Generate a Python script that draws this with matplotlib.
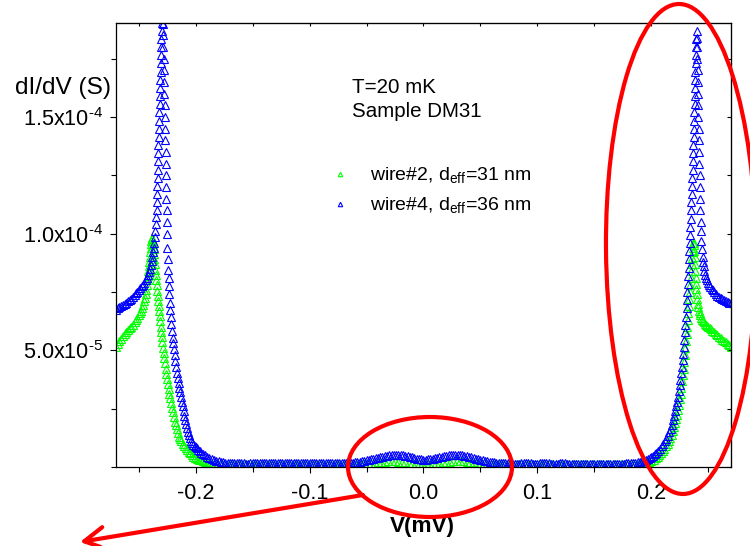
import matplotlib
matplotlib.use("Agg")
import matplotlib.pyplot as plt
from matplotlib.ticker import MultipleLocator
from matplotlib.patches import Ellipse, FancyArrowPatch
from matplotlib.lines import Line2D

plt.rcParams['font.family'] = ['Liberation Sans', 'DejaVu Sans']
plt.rcParams['mathtext.fontset'] = 'custom'
plt.rcParams['mathtext.rm'] = 'Liberation Sans'
plt.rcParams['mathtext.it'] = 'Liberation Sans:italic'
plt.rcParams['mathtext.bf'] = 'Liberation Sans:bold'

# ---- data: bias voltage (mV) and differential conductance (units of 1e-5 S) ----
v_wire2 = [
    # outer shoulder and coherence peak, negative bias
    -0.2700, -0.2685, -0.2670, -0.2655, -0.2640, -0.2625, -0.2610, -0.2595, -0.2580, -0.2565,
    -0.2550, -0.2537, -0.2525, -0.2512, -0.2500, -0.2490, -0.2480, -0.2470, -0.2460, -0.2452,
    -0.2445, -0.2439, -0.2433, -0.2428, -0.2423, -0.2419, -0.2415, -0.2411, -0.2408, -0.2404,
    -0.2401, -0.2397, -0.2394, -0.2390, -0.2386, -0.2382, -0.2378,
    -0.2374, -0.2370, -0.2366, -0.2362, -0.2358, -0.2354, -0.2350, -0.2346, -0.2342, -0.2338,
    -0.2334, -0.2330, -0.2325, -0.2321, -0.2316, -0.2312, -0.2307, -0.2302, -0.2297, -0.2292,
    -0.2287, -0.2282, -0.2276, -0.2271, -0.2265, -0.2259, -0.2252, -0.2246, -0.2239, -0.2232,
    -0.2225, -0.2217, -0.2208, -0.2200, -0.2191, -0.2183, -0.2174, -0.2165, -0.2155, -0.2145,
    -0.2135, -0.2125, -0.2112, -0.2100, -0.2087, -0.2075, -0.2062, -0.2050, -0.2035, -0.2020,
    -0.2005, -0.1990, -0.1972, -0.1955, -0.1937, -0.1920, -0.1900, -0.1880, -0.1860, -0.1840,
    # subgap
    -0.181, -0.178, -0.175, -0.172, -0.169, -0.166, -0.163, -0.160, -0.157, -0.154,
    -0.151, -0.148, -0.145, -0.142, -0.139, -0.136, -0.133, -0.130, -0.127, -0.124,
    -0.121, -0.118, -0.115, -0.112, -0.109, -0.106, -0.103, -0.100, -0.097, -0.094,
    -0.091, -0.088, -0.085, -0.082, -0.079, -0.076, -0.073, -0.070,
    -0.067, -0.064, -0.061, -0.058, -0.055, -0.052, -0.049, -0.046, -0.043, -0.040,
    -0.037, -0.034, -0.031, -0.028, -0.025, -0.022, -0.019, -0.016, -0.013, -0.010,
    -0.007, -0.004, -0.001, 0.002, 0.005, 0.008, 0.011, 0.014, 0.017, 0.020,
    0.023, 0.026, 0.029, 0.032, 0.035, 0.038, 0.041, 0.044, 0.047, 0.050,
    0.053, 0.056, 0.059, 0.062, 0.065, 0.068, 0.071,
    0.074, 0.077, 0.080, 0.083, 0.086, 0.089, 0.092, 0.095, 0.098, 0.101,
    0.104, 0.107, 0.110, 0.113, 0.116, 0.119, 0.122, 0.125, 0.128, 0.131,
    0.134, 0.137, 0.140, 0.143, 0.146, 0.149, 0.152, 0.155, 0.158, 0.161,
    0.164, 0.167, 0.170, 0.173, 0.176, 0.179, 0.182, 0.185, 0.188,
    # coherence peak and shoulder, positive bias
    0.1905, 0.1930, 0.1955, 0.1980, 0.2000, 0.2020, 0.2040, 0.2055, 0.2070, 0.2085,
    0.2100, 0.2115, 0.2130, 0.2143, 0.2155, 0.2168, 0.2180, 0.2190, 0.2200, 0.2210,
    0.2220, 0.2228, 0.2235, 0.2243, 0.2250, 0.2258, 0.2265, 0.2272, 0.2280, 0.2285,
    0.2290, 0.2295, 0.2300, 0.2305, 0.2310, 0.2315, 0.2320, 0.2325, 0.2330, 0.2334,
    0.2338, 0.2342, 0.2346, 0.2350, 0.2354, 0.2358, 0.2362, 0.2366, 0.2370, 0.2373, 0.2376,
    0.2379, 0.2382, 0.2385, 0.2388, 0.2391, 0.2394, 0.2397, 0.2400, 0.2404, 0.2408,
    0.2413, 0.2418, 0.2424, 0.2430, 0.2437, 0.2445, 0.2452, 0.2460, 0.2470, 0.2480,
    0.2490, 0.2500, 0.2512, 0.2525, 0.2537, 0.2550, 0.2565, 0.2580, 0.2595, 0.2610,
    0.2625, 0.2640, 0.2655, 0.2670, 0.2685, 0.2700,
]
g_wire2 = [
    5.15, 5.28, 5.40, 5.50, 5.60, 5.70, 5.80, 5.88, 5.95, 6.02,
    6.10, 6.20, 6.30, 6.40, 6.50, 6.60, 6.70, 6.82, 6.95, 7.10,
    7.25, 7.42, 7.60, 7.80, 8.00, 8.20, 8.40, 8.60, 8.80, 9.00,
    9.20, 9.38, 9.55, 9.68, 9.80, 9.78, 9.70,
    9.55, 9.35, 9.12, 8.90, 8.68, 8.45, 8.22, 8.00, 7.78, 7.55,
    7.32, 7.10, 6.90, 6.70, 6.48, 6.25, 6.02, 5.80, 5.58, 5.35,
    5.12, 4.90, 4.68, 4.45, 4.22, 4.00, 3.78, 3.55, 3.35, 3.15,
    2.95, 2.75, 2.55, 2.35, 2.15, 1.95, 1.78, 1.62, 1.45, 1.30,
    1.20, 1.10, 1.00, 0.90, 0.81, 0.72, 0.65, 0.58, 0.51, 0.45,
    0.40, 0.36, 0.32, 0.28, 0.25, 0.22, 0.19, 0.17, 0.15, 0.14,
    0.13, 0.13, 0.12, 0.12, 0.12, 0.13, 0.13, 0.12, 0.12, 0.12,
    0.13, 0.12, 0.12, 0.13, 0.13, 0.12, 0.12, 0.12, 0.13, 0.13,
    0.12, 0.12, 0.13, 0.13, 0.13, 0.12, 0.12, 0.12, 0.13, 0.13,
    0.13, 0.12, 0.12, 0.12, 0.12, 0.13, 0.13, 0.13,
    0.13, 0.13, 0.14, 0.14, 0.15, 0.16, 0.17, 0.18, 0.19, 0.21,
    0.22, 0.23, 0.24, 0.24, 0.24, 0.23, 0.22, 0.21, 0.19, 0.17,
    0.16, 0.15, 0.14, 0.14, 0.15, 0.16, 0.17, 0.19, 0.21, 0.22,
    0.23, 0.24, 0.25, 0.25, 0.24, 0.23, 0.22, 0.20, 0.18, 0.17,
    0.16, 0.15, 0.14, 0.13, 0.13, 0.12, 0.12,
    0.12, 0.12, 0.13, 0.12, 0.12, 0.12, 0.13, 0.12, 0.12, 0.12,
    0.12, 0.13, 0.12, 0.12, 0.12, 0.11, 0.11, 0.12, 0.12, 0.12,
    0.12, 0.11, 0.11, 0.11, 0.11, 0.11, 0.11, 0.11, 0.11, 0.11,
    0.12, 0.12, 0.12, 0.12, 0.13, 0.13, 0.14, 0.14, 0.15,
    0.16, 0.18, 0.20, 0.23, 0.27, 0.31, 0.37, 0.43, 0.50, 0.58,
    0.68, 0.77, 0.88, 0.99, 1.10, 1.24, 1.38, 1.54, 1.70, 1.87,
    2.05, 2.25, 2.45, 2.67, 2.90, 3.15, 3.40, 3.67, 3.95, 4.22,
    4.50, 4.80, 5.10, 5.40, 5.70, 6.00, 6.30, 6.60, 6.90, 7.20,
    7.50, 7.80, 8.10, 8.40, 8.70, 8.95, 9.20, 9.40, 9.60, 9.58, 9.50,
    9.25, 9.00, 8.70, 8.40, 8.12, 7.85, 7.62, 7.40, 7.20, 7.00,
    6.85, 6.70, 6.60, 6.50, 6.40, 6.30, 6.25, 6.20, 6.15, 6.10,
    6.05, 6.00, 5.95, 5.90, 5.84, 5.78, 5.72, 5.65, 5.58, 5.52,
    5.46, 5.40, 5.34, 5.28, 5.22, 5.15,
]

v_wire4 = [
    # outer shoulder and coherence peak, negative bias
    -0.2700, -0.2685, -0.2670, -0.2655, -0.2640, -0.2625, -0.2610, -0.2595, -0.2580, -0.2565,
    -0.2550, -0.2537, -0.2525, -0.2512, -0.2500, -0.2487, -0.2475, -0.2462, -0.2450, -0.2440,
    -0.2430, -0.2420, -0.2410, -0.2402, -0.2395, -0.2387, -0.2380, -0.2374, -0.2368, -0.2363,
    -0.2358, -0.2354, -0.2350, -0.2347, -0.2344, -0.2341, -0.2339, -0.2337, -0.2335, -0.2333,
    -0.2331, -0.2329, -0.2327, -0.2325, -0.2323, -0.2321, -0.2319, -0.2317, -0.2315, -0.2313,
    -0.2311, -0.2309, -0.2307, -0.2305, -0.2303, -0.2301, -0.2299, -0.2297, -0.2295, -0.2293,
    -0.2291,
    -0.2289, -0.2287, -0.2285, -0.2283, -0.2281, -0.2279, -0.2277, -0.2275, -0.2273, -0.2271,
    -0.2269, -0.2267, -0.2265, -0.2263, -0.2261, -0.2259, -0.2257, -0.2255, -0.2253, -0.2251,
    -0.2248, -0.2245, -0.2242, -0.2239, -0.2236, -0.2232, -0.2228, -0.2224, -0.2219, -0.2214,
    -0.2208, -0.2203, -0.2197, -0.2191, -0.2185, -0.2178, -0.2171, -0.2164, -0.2157, -0.2150,
    -0.2143, -0.2136, -0.2129, -0.2122, -0.2115, -0.2107, -0.2100, -0.2092, -0.2085, -0.2077,
    -0.2069, -0.2060, -0.2050, -0.2040, -0.2030, -0.2020, -0.2010, -0.2000, -0.1990, -0.1978,
    -0.1965, -0.1953, -0.1940, -0.1920, -0.1900, -0.1880, -0.1860, -0.1840, -0.1820, -0.1800,
    -0.1780, -0.1760, -0.1740, -0.1720, -0.1700,
    # subgap
    -0.168, -0.166, -0.164, -0.162, -0.160, -0.158, -0.156, -0.154, -0.152, -0.150,
    -0.148, -0.146, -0.144, -0.142, -0.140, -0.138, -0.136, -0.134, -0.132, -0.130,
    -0.128, -0.126, -0.124, -0.122, -0.120, -0.118, -0.116, -0.114, -0.112, -0.110,
    -0.108, -0.106, -0.104, -0.102, -0.100, -0.098, -0.096, -0.094, -0.092, -0.090,
    -0.088, -0.086, -0.084, -0.082, -0.080, -0.078, -0.076, -0.074, -0.072, -0.070,
    -0.068, -0.066, -0.064, -0.062, -0.060, -0.058, -0.056, -0.054, -0.052, -0.050,
    -0.048, -0.046, -0.044, -0.042, -0.040, -0.038, -0.036, -0.034, -0.032, -0.030,
    -0.028, -0.026, -0.024, -0.022, -0.020, -0.018, -0.016, -0.014, -0.012, -0.010,
    -0.008, -0.006, -0.004, -0.002, 0.000, 0.002, 0.004, 0.006, 0.008, 0.010,
    0.012, 0.014, 0.016, 0.018, 0.020, 0.022, 0.024, 0.026, 0.028, 0.030,
    0.032, 0.034, 0.036, 0.038, 0.040, 0.042, 0.044, 0.046, 0.048, 0.050,
    0.052, 0.054, 0.056, 0.058, 0.060, 0.062, 0.064, 0.066, 0.068, 0.070,
    0.072,
    0.074, 0.076, 0.078, 0.080, 0.082, 0.084, 0.086, 0.088, 0.090, 0.092,
    0.094, 0.096, 0.098, 0.100, 0.102, 0.104, 0.106, 0.108, 0.110, 0.112,
    0.114, 0.116, 0.118, 0.120, 0.122, 0.124, 0.126, 0.128, 0.130, 0.132,
    0.134, 0.136, 0.138, 0.140, 0.142, 0.144, 0.146, 0.148, 0.150, 0.152,
    0.154, 0.156, 0.158, 0.160, 0.162, 0.164, 0.166, 0.168, 0.170, 0.172,
    0.174, 0.176, 0.178, 0.180, 0.182, 0.184,
    # coherence peak and shoulder, positive bias
    0.1860, 0.1880, 0.1900, 0.1920, 0.1940, 0.1955, 0.1970, 0.1985, 0.2000, 0.2015,
    0.2030, 0.2045, 0.2060, 0.2075, 0.2090, 0.2105, 0.2120, 0.2132, 0.2145, 0.2157,
    0.2170, 0.2180, 0.2190, 0.2200, 0.2210, 0.2218, 0.2225, 0.2232, 0.2240, 0.2248,
    0.2255, 0.2262, 0.2270, 0.2275, 0.2280, 0.2285, 0.2290, 0.2295, 0.2300, 0.2305,
    0.2310, 0.2314, 0.2318, 0.2322, 0.2325, 0.2329, 0.2332, 0.2335, 0.2338, 0.2341,
    0.2344, 0.2347, 0.2350, 0.2353, 0.2355, 0.2358, 0.2360, 0.2363, 0.2365, 0.2368,
    0.2370, 0.2372, 0.2374, 0.2376, 0.2378, 0.2380, 0.2382, 0.2384, 0.2386, 0.2388,
    0.2390, 0.2392, 0.2394, 0.2396, 0.2398,
    0.2400, 0.2402, 0.2404, 0.2406, 0.2408, 0.2410, 0.2412, 0.2414, 0.2416, 0.2418,
    0.2420, 0.2422, 0.2424, 0.2426, 0.2428, 0.2430, 0.2433, 0.2436, 0.2440, 0.2445,
    0.2450, 0.2455, 0.2460, 0.2467, 0.2475, 0.2482, 0.2490, 0.2500, 0.2510, 0.2520,
    0.2530, 0.2542, 0.2555, 0.2567, 0.2580, 0.2595, 0.2610, 0.2625, 0.2640, 0.2655,
    0.2670, 0.2685, 0.2700,
]
g_wire4 = [
    6.75, 6.80, 6.85, 6.90, 6.95, 7.00, 7.05, 7.10, 7.15, 7.22,
    7.30, 7.38, 7.45, 7.52, 7.60, 7.68, 7.75, 7.82, 7.90, 8.00,
    8.10, 8.22, 8.35, 8.50, 8.65, 8.82, 9.00, 9.20, 9.40, 9.62,
    9.85, 10.1, 10.4, 10.7, 11.0, 11.35, 11.7, 12.05, 12.4, 12.75,
    13.1, 13.45, 13.8, 14.15, 14.5, 14.85, 15.2, 15.55, 15.9, 16.25,
    16.6, 16.95, 17.3, 17.65, 18.0, 18.35, 18.7, 19.05, 19.4, 19.7,
    20.0,
    19.5, 19.0, 18.5, 18.0, 17.5, 17.0, 16.5, 16.0, 15.5, 15.0,
    14.5, 14.0, 13.5, 13.0, 12.5, 12.0, 11.5, 11.0, 10.5, 10.0,
    9.4, 8.9, 8.45, 8.1, 7.75, 7.4, 7.05, 6.75, 6.45, 6.15,
    5.85, 5.55, 5.3, 5.05, 4.8, 4.55, 4.3, 4.05, 3.82, 3.6,
    3.4, 3.2, 3.0, 2.8, 2.6, 2.4, 2.2, 2.02, 1.85, 1.68,
    1.52, 1.38, 1.24, 1.12, 1.03, 0.96, 0.90, 0.85, 0.80, 0.74,
    0.68, 0.62, 0.57, 0.50, 0.43, 0.38, 0.34, 0.30, 0.27, 0.24,
    0.22, 0.20, 0.19, 0.18, 0.17,
    0.17, 0.17, 0.16, 0.16, 0.16, 0.16, 0.15, 0.15, 0.16, 0.16,
    0.16, 0.16, 0.17, 0.17, 0.16, 0.16, 0.16, 0.16, 0.17, 0.17,
    0.17, 0.17, 0.16, 0.16, 0.16, 0.16, 0.17, 0.17, 0.18, 0.18,
    0.17, 0.17, 0.17, 0.17, 0.18, 0.18, 0.18, 0.18, 0.17, 0.17,
    0.17, 0.17, 0.16, 0.16, 0.16, 0.16, 0.16, 0.16, 0.16, 0.16,
    0.16, 0.17, 0.18, 0.19, 0.20, 0.21, 0.23, 0.24, 0.26, 0.28,
    0.30, 0.33, 0.35, 0.38, 0.40, 0.43, 0.45, 0.47, 0.48, 0.50,
    0.51, 0.52, 0.52, 0.52, 0.51, 0.50, 0.48, 0.46, 0.44, 0.41,
    0.39, 0.36, 0.34, 0.33, 0.32, 0.32, 0.33, 0.34, 0.35, 0.37,
    0.40, 0.42, 0.45, 0.47, 0.49, 0.51, 0.52, 0.53, 0.53, 0.53,
    0.52, 0.51, 0.49, 0.47, 0.45, 0.42, 0.39, 0.36, 0.33, 0.30,
    0.28, 0.26, 0.24, 0.22, 0.21, 0.20, 0.19, 0.18, 0.17, 0.17,
    0.16,
    0.16, 0.16, 0.16, 0.15, 0.15, 0.15, 0.16, 0.16, 0.16, 0.16,
    0.16, 0.15, 0.15, 0.15, 0.16, 0.16, 0.16, 0.16, 0.16, 0.15,
    0.15, 0.15, 0.15, 0.16, 0.16, 0.16, 0.15, 0.15, 0.15, 0.15,
    0.15, 0.14, 0.14, 0.14, 0.14, 0.14, 0.14, 0.13, 0.13, 0.13,
    0.13, 0.13, 0.13, 0.13, 0.13, 0.13, 0.14, 0.14, 0.14, 0.14,
    0.15, 0.15, 0.16, 0.16, 0.17, 0.18,
    0.19, 0.21, 0.22, 0.24, 0.27, 0.30, 0.33, 0.37, 0.42, 0.48,
    0.55, 0.62, 0.70, 0.79, 0.88, 0.98, 1.10, 1.22, 1.35, 1.50,
    1.65, 1.82, 2.00, 2.20, 2.40, 2.60, 2.80, 3.02, 3.25, 3.50,
    3.75, 4.02, 4.30, 4.58, 4.85, 5.15, 5.45, 5.78, 6.10, 6.45,
    6.80, 7.15, 7.50, 7.85, 8.20, 8.55, 8.90, 9.25, 9.60, 9.95,
    10.3, 10.65, 11.0, 11.35, 11.7, 12.05, 12.4, 12.75, 13.1, 13.45,
    13.8, 14.15, 14.5, 14.85, 15.2, 15.55, 15.9, 16.25, 16.6, 16.95,
    17.3, 17.65, 18.0, 18.35, 18.7,
    18.4, 18.0, 17.5, 17.0, 16.5, 16.0, 15.5, 15.0, 14.5, 14.0,
    13.5, 13.0, 12.5, 12.0, 11.5, 11.0, 10.5, 10.1, 9.7, 9.35,
    9.0, 8.8, 8.6, 8.42, 8.25, 8.12, 8.0, 7.9, 7.8, 7.72,
    7.65, 7.58, 7.5, 7.42, 7.35, 7.3, 7.25, 7.2, 7.15, 7.11,
    7.08, 7.05, 7.02,
]
G_UNIT = 1e-5

labels = ['wire#2, d$_{\\mathregular{eff}}$=31 nm', 'wire#4, d$_{\\mathregular{eff}}$=36 nm']
colors = ['#00ff00', '#0000ff']

x_major = [-0.2, -0.1, 0.0, 0.1, 0.2]
x_major_labels = ['-0.2', '-0.1', '0.0', '0.1', '0.2']
y_major = [5e-5, 1e-4, 1.5e-4]
y_major_labels = ['5.0x10$^{\\text{-5}}$', '1.0x10$^{\\text{-4}}$', '1.5x10$^{\\text{-4}}$']

W, H = 750, 546
fig = plt.figure(figsize=(W / 100, H / 100), dpi=100)
ax = fig.add_axes([116 / W, 1 - 467 / H, 615 / W, 444 / H])

for v, g, c in [(v_wire2, g_wire2, colors[0]), (v_wire4, g_wire4, colors[1])]:
    ax.plot(v, [x * G_UNIT for x in g], linestyle='none', marker='^', ms=5.2,
            mfc='none', mec=c, mew=0.8)

ax.set_xlim(-0.27, 0.27)
ax.set_ylim(0, 1.903e-4)

ax.set_xticks(x_major)
ax.set_xticklabels(x_major_labels)
ax.set_yticks(y_major)
ax.set_yticklabels(y_major_labels)
ax.xaxis.set_minor_locator(MultipleLocator(0.05))
ax.yaxis.set_minor_locator(MultipleLocator(2.5e-5))
ax.tick_params(which='major', direction='out', length=4.5, width=0.8, labelsize=15.6, pad=5)
ax.tick_params(which='minor', direction='out', length=3.3, width=0.8)
ax.tick_params(axis='x', pad=7)
for s in ax.spines.values():
    s.set_linewidth(0.9)

# inward ticks on the top and right edges
top = ax.secondary_xaxis('top')
top.set_xticks(x_major)
top.xaxis.set_minor_locator(MultipleLocator(0.05))
top.tick_params(which='both', direction='in', length=2.5, width=0.8, labeltop=False)
right = ax.secondary_yaxis('right')
right.set_yticks(y_major)
right.yaxis.set_minor_locator(MultipleLocator(2.5e-5))
right.tick_params(which='both', direction='in', length=3, width=0.8, labelright=False)

def px(x, y):
    return (x / W, 1 - y / H)

fig.text(*px(15, 93.5), 'dI/dV (S)', fontsize=17.6, va='baseline', ha='left')
fig.text(*px(422.5, 532), 'V(mV)', fontsize=16.2, fontweight='bold', va='baseline', ha='center')
fig.text(*px(352, 93), 'T=20 mK', fontsize=14.8, va='baseline')
fig.text(*px(352, 117), 'Sample DM31', fontsize=14.8, va='baseline')

# legend entries
for i, (lab, c) in enumerate(zip(labels, colors)):
    yb = 180 + 30 * i
    mx, my = px(340, yb - 6)
    fig.add_artist(Line2D([mx], [my], transform=fig.transFigure, linestyle='none',
                          marker='^', ms=3.2, mfc='none', mec=c, mew=0.8))
    fig.text(*px(370, yb), lab, fontsize=14, va='baseline')

# red highlight marks
inch = fig.dpi_scale_trans
def pin(x, y):
    return (x / 100, (H - y) / 100)

fig.add_artist(Ellipse(pin(430, 467), 164 / 100, 100 / 100, transform=inch,
                       fill=False, ec='#ff0000', lw=3.0, zorder=10))
fig.add_artist(Ellipse(pin(681, 249), 150 / 100, 490 / 100, angle=0.5, transform=inch,
                       fill=False, ec='#ff0000', lw=3.0, zorder=10))
fig.add_artist(FancyArrowPatch(pin(363, 495), pin(80, 542), transform=inch,
                               arrowstyle='->,head_length=1.44,head_width=0.79',
                               mutation_scale=10, color='#ff0000', lw=3.0,
                               shrinkA=0, shrinkB=0, zorder=10))

fig.savefig('out.png', dpi=100)
